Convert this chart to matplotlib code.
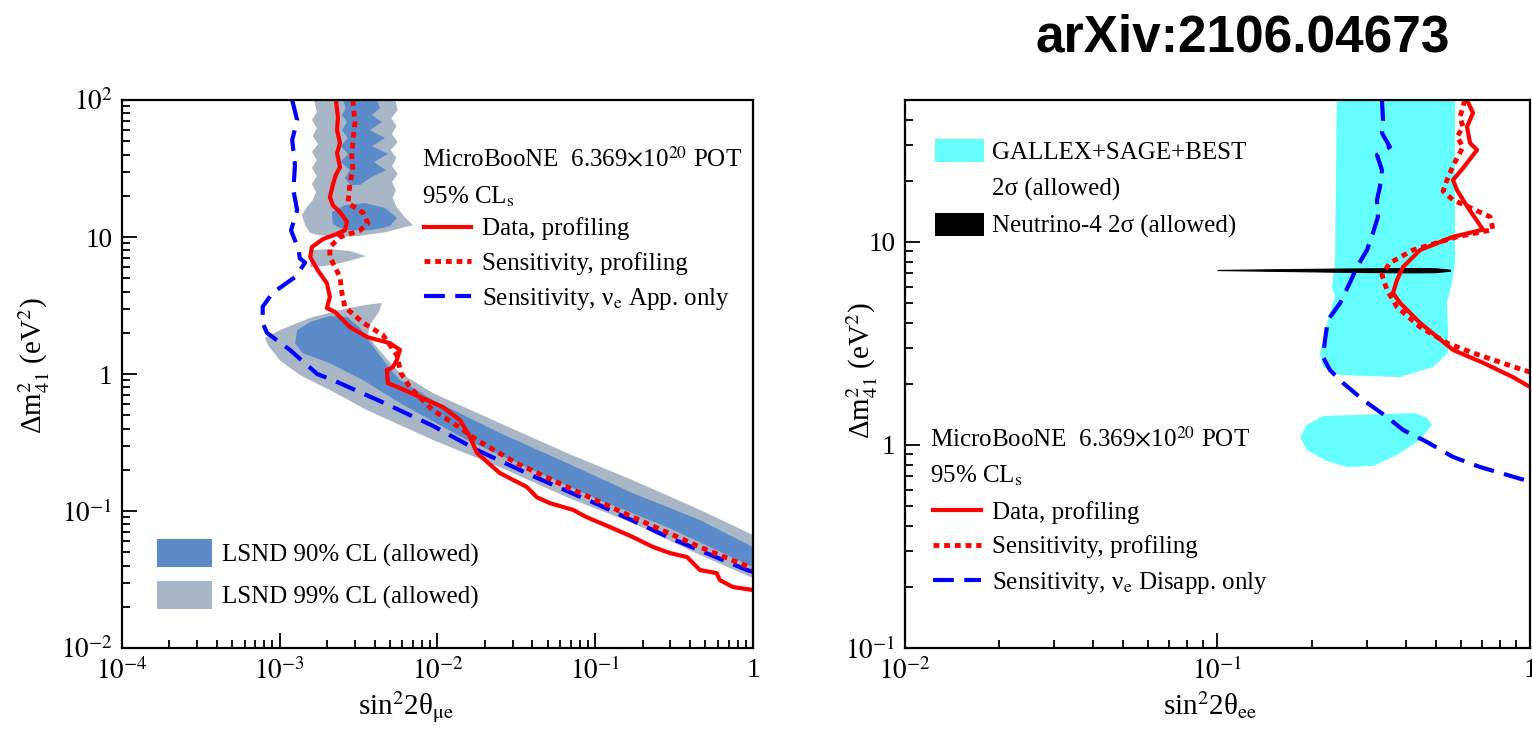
import numpy as np
import matplotlib
matplotlib.use("Agg")
import matplotlib.pyplot as plt
from matplotlib.lines import Line2D
from matplotlib.patches import Patch
from matplotlib.ticker import LogLocator, FuncFormatter, NullFormatter

plt.rcParams['font.family'] = ['Liberation Serif', 'DejaVu Serif']
plt.rcParams['mathtext.fontset'] = 'stix'

# ---------------- left panel: nu_mu -> nu_e appearance ----------------
# LSND 99% CL, lower band
lsnd99_band_x = [8.06e-4, 1.00e-3, 1.56e-3, 2.41e-3, 3.47e-3, 4.45e-3, 4.26e-3, 3.73e-3, 3.63e-3,
                 4.02e-3, 4.86e-3, 5.78e-3, 9.35e-3, 2.49e-2, 6.62e-2, 0.173, 0.461, 1.0, 1.0,
                 0.461, 0.173, 6.62e-2, 2.49e-2, 9.35e-3, 3.57e-3, 2.08e-3, 1.34e-3, 1.00e-3, 8.42e-4]
lsnd99_band_y = [1.83, 2.09, 2.57, 2.93, 3.19, 3.30, 2.84, 2.28, 1.93,
                 1.63, 1.26, 1.02, 0.726, 0.438, 0.265, 0.168, 0.102, 0.0668, 0.0324,
                 0.0478, 0.0817, 0.126, 0.209, 0.330, 0.546, 0.764, 0.985, 1.26, 1.63]
# LSND 99% CL, upper island
lsnd99_up_x = [1.65e-3, 5.4e-3, 5.6e-3, 5.1e-3, 5.5e-3, 5.15e-3, 5.6e-3, 5.05e-3, 5.5e-3, 5.15e-3,
               5.6e-3, 5.15e-3, 5.45e-3, 5.2e-3, 5.5e-3, 6.2e-3, 7.0e-3, 5.8e-3, 4.8e-3, 3.2e-3,
               2.4e-3, 1.8e-3, 1.56e-3, 1.45e-3, 1.38e-3, 1.49e-3, 1.62e-3, 1.70e-3, 1.60e-3, 1.72e-3,
               1.60e-3, 1.72e-3, 1.60e-3, 1.75e-3, 1.62e-3, 1.72e-3, 1.60e-3, 1.72e-3]
lsnd99_up_y = [100, 100, 84.5, 73.9, 64.6, 56.5, 49.3, 43.2, 37.8, 33.0,
               28.8, 25.2, 22.0, 19.3, 16.6, 14.0, 12.2, 11.6, 10.9, 10.2,
               10.0, 10.3, 10.7, 12.2, 14.5, 16.6, 18.6, 21.3, 24.4, 27.9,
               31.9, 36.5, 41.7, 47.7, 54.6, 62.5, 71.4, 81.7]
lsnd99_finger_x = [1.56e-3, 2.08e-3, 2.79e-3, 3.52e-3, 2.59e-3, 1.94e-3, 1.56e-3]
lsnd99_finger_y = [8.03, 8.17, 7.90, 7.26, 6.57, 6.14, 6.04]

# LSND 90% CL
lsnd90_band_x = [1.29e-3, 1.56e-3, 2.08e-3, 2.67e-3, 3.23e-3, 3.73e-3, 4.79e-3, 5.78e-3, 9.35e-3,
                 2.49e-2, 6.62e-2, 0.173, 0.461, 1.0, 1.0, 0.285, 0.107, 4.03e-2, 1.54e-2,
                 5.78e-3, 3.37e-3, 2.08e-3, 1.40e-3, 1.25e-3]
lsnd90_band_y = [2.09, 2.40, 2.65, 2.61, 2.17, 1.71, 1.16, 0.904, 0.646,
                 0.371, 0.224, 0.135, 0.0859, 0.0546, 0.039, 0.0764, 0.120, 0.199, 0.330,
                 0.614, 0.904, 1.20, 1.42, 1.68]
lsnd90_up_x = [2.52e-3, 4.13e-3, 4.32e-3, 3.84e-3, 4.45e-3, 3.73e-3, 4.65e-3, 3.84e-3, 4.86e-3,
               3.95e-3, 4.72e-3, 3.73e-3, 3.23e-3, 2.79e-3, 2.59e-3, 2.79e-3, 2.44e-3, 2.71e-3,
               2.44e-3, 2.71e-3, 2.48e-3, 2.67e-3, 2.48e-3, 2.63e-3]
lsnd90_up_y = [100, 100, 87.4, 77.8, 69.1, 60.4, 52.8, 46.1, 40.4,
               35.3, 30.8, 27.0, 24.0, 24.0, 27.0, 30.8, 35.3, 40.4,
               46.1, 52.8, 60.4, 69.1, 77.8, 87.4]
lsnd90_blob_x = [2.14e-3, 2.59e-3, 3.47e-3, 4.65e-3, 5.54e-3, 5.0e-3, 3.73e-3, 2.59e-3, 2.17e-3]
lsnd90_blob_y = [15.2, 17.1, 17.7, 16.3, 13.8, 12.0, 11.2, 11.2, 12.4]

# MicroBooNE contours (appearance)
app_data_x = [2.27e-3, 2.34e-3, 2.31e-3, 2.41e-3, 2.31e-3, 2.41e-3, 2.27e-3, 2.17e-3, 2.08e-3, 2.17e-3,
              2.41e-3, 2.67e-3, 2.59e-3, 2.24e-3, 1.88e-3, 1.60e-3, 1.56e-3, 1.74e-3, 1.99e-3, 2.08e-3,
              1.99e-3, 2.24e-3, 2.79e-3, 3.59e-3, 5.00e-3, 5.78e-3, 5.52e-3, 5.21e-3, 4.78e-3, 4.85e-3,
              5.78e-3, 8.58e-3, 1.08e-2, 1.39e-2, 1.61e-2, 1.78e-2, 2.49e-2, 3.68e-2, 4.27e-2, 5.18e-2,
              7.22e-2, 8.8e-2, 0.124, 0.173, 0.233, 0.298, 0.382, 0.461, 0.589, 0.617, 0.745, 1.0]
app_data_y = [100, 75.2, 60.4, 48.5, 41.0, 32.4, 28.4, 24.0, 19.6, 17.1,
              15.2, 12.9, 11.2, 10.4, 9.67, 8.45, 7.15, 5.74, 4.61, 3.65,
              3.03, 2.84, 2.20, 1.86, 1.68, 1.50, 1.26, 1.12, 1.07, 0.859,
              0.790, 0.646, 0.574, 0.461, 0.347, 0.265, 0.189, 0.150, 0.126, 0.114,
              0.102, 0.0903, 0.0764, 0.0646, 0.0546, 0.0493, 0.0461, 0.0371, 0.0352, 0.0313, 0.0279, 0.0265]
app_sens_x = [2.91e-3, 3.00e-3, 2.91e-3, 2.86e-3, 2.91e-3, 2.79e-3, 2.71e-3, 3.39e-3, 3.62e-3, 3.23e-3,
              2.41e-3, 2.08e-3, 2.08e-3, 2.41e-3, 2.48e-3, 2.59e-3, 3.39e-3, 4.50e-3, 5.52e-3, 5.86e-3,
              6.69e-3, 9.3e-3, 1.26e-2, 1.78e-2, 3.16e-2, 6.62e-2, 0.173, 0.461, 1.0]
app_sens_y = [100, 67.9, 51.0, 38.4, 30.8, 24.8, 17.7, 15.0, 12.6, 11.2,
              10.0, 8.45, 7.15, 5.11, 3.90, 3.08, 2.36, 1.93, 1.38, 1.02,
              0.80, 0.546, 0.438, 0.330, 0.224, 0.150, 0.0903, 0.0546, 0.038]
app_only_x = [1.20e-3, 1.29e-3, 1.20e-3, 1.25e-3, 1.22e-3, 1.29e-3, 1.18e-3, 1.32e-3, 1.34e-3, 1.45e-3,
              1.25e-3, 9.0e-4, 7.8e-4, 7.8e-4, 8.3e-4, 1.16e-3, 1.73e-3, 2.17e-3, 4.52e-3, 9.3e-3,
              1.78e-2, 4.03e-2, 0.107, 0.285, 0.916, 1.0]
app_only_y = [100, 71.4, 51, 33.5, 22, 15.7, 11.2, 8.03, 7.0, 6.5,
              5.1, 3.9, 3.1, 2.35, 2.0, 1.50, 1.0, 0.904, 0.62, 0.42,
              0.279, 0.18, 0.110, 0.065, 0.0371, 0.036]

# ---------------- right panel: nu_e disappearance ----------------
gsb_x = [0.2412, 0.5754, 0.5754, 0.5627, 0.5424, 0.5464, 0.546, 0.4893, 0.384, 0.247,
         0.2176, 0.213, 0.2257, 0.2377, 0.2325, 0.2377]
gsb_y = [60, 60, 7.88, 6.28, 5.01, 3.69, 2.84, 2.42, 2.16, 2.21,
         2.42, 2.84, 4.13, 5.36, 6.0, 7.88]
gsb2_x = [0.184, 0.193, 0.2176, 0.4285, 0.468, 0.486, 0.445, 0.3754, 0.3146, 0.2597, 0.224, 0.193]
gsb2_y = [1.094, 1.254, 1.39, 1.437, 1.358, 1.254, 1.06, 0.893, 0.788, 0.779, 0.834, 0.945]

n4_x = [0.100, 0.13, 0.18, 0.25, 0.33, 0.42, 0.50, 0.555]
n4_lo = [7.27, 7.23, 7.18, 7.13, 7.10, 7.08, 7.10, 7.22]
n4_hi = [7.28, 7.32, 7.36, 7.40, 7.42, 7.44, 7.42, 7.30]

dis_data_x = [0.6287, 0.657, 0.6287, 0.643, 0.677, 0.6105, 0.567, 0.584, 0.6287, 0.7075,
              0.567, 0.445, 0.3924, 0.3754, 0.3644, 0.384, 0.445, 0.567, 0.7075, 0.882, 1.0]
dis_data_y = [50, 43.2, 36.9, 30.7, 28.4, 23.1, 20.2, 18.0, 15.0, 11.5,
              10.6, 9.13, 7.53, 6.5, 5.61, 5.01, 3.99, 2.94, 2.54, 2.16, 1.93]
dis_sens_x = [0.619, 0.597, 0.6105, 0.584, 0.6105, 0.567, 0.5424, 0.527, 0.567, 0.6287,
              0.745, 0.7614, 0.584, 0.4222, 0.356, 0.336, 0.3486, 0.3754, 0.445, 0.5424,
              0.657, 0.95, 1.0]
dis_sens_y = [50, 41.3, 36.9, 32.9, 29.4, 23.7, 20.2, 17.8, 16.1, 15.0,
              13.3, 11.5, 10.6, 9.13, 7.88, 6.88, 5.80, 4.78, 3.81, 3.18,
              2.84, 2.34, 2.29]
dis_only_x = [0.336, 0.3386, 0.336, 0.356, 0.3238, 0.336, 0.331, 0.3238, 0.3262, 0.3146,
              0.301, 0.2795, 0.265, 0.247, 0.2257, 0.2208, 0.2176, 0.229, 0.2522, 0.292,
              0.3486, 0.3924, 0.468, 0.567, 0.692, 1.0]
dis_only_y = [50, 39.9, 34.4, 29.4, 26.8, 22.6, 18.7, 16.1, 13.3, 11.1,
              9.13, 7.53, 6.28, 5.01, 4.13, 3.29, 2.71, 2.34, 2.02, 1.67,
              1.374, 1.186, 1.035, 0.873, 0.779, 0.66]

BLUE90 = '#5b8bc8'
GRAY99 = '#a9b6c5'
CYAN = '#66ffff'
RED = '#ff0000'
BLUE = '#0000ff'
DOT = (0, (1.2, 1.0))
DASH = (0, (5, 2.5))
FS = 18


def log_label(v, pos):
    e = int(round(np.log10(v)))
    if e == 0:
        return '1'
    if e == 1:
        return '10'
    return r'$10^{%d}$' % e


def style_axes(ax, xlim, ylim):
    ax.set_xscale('log')
    ax.set_yscale('log')
    ax.set_xlim(*xlim)
    ax.set_ylim(*ylim)
    for axis in (ax.xaxis, ax.yaxis):
        axis.set_major_locator(LogLocator(base=10, numticks=20))
        axis.set_minor_locator(LogLocator(base=10, subs=np.arange(2, 10), numticks=20))
        axis.set_major_formatter(FuncFormatter(log_label))
        axis.set_minor_formatter(NullFormatter())
    ax.tick_params(which='both', direction='in', top=False, right=False,
                   labelsize=19.5, width=1.3)
    ax.tick_params(which='major', length=11, pad=7)
    ax.tick_params(which='minor', length=6)
    for s in ax.spines.values():
        s.set_linewidth(1.6)


fig = plt.figure(figsize=(15.32, 7.40), dpi=100)
ax1 = fig.add_axes([0.0796, 0.1243, 0.4119, 0.7405])
ax2 = fig.add_axes([0.5907, 0.1243, 0.4080, 0.7405])

# left panel
ax1.fill(lsnd99_band_x, lsnd99_band_y, color=GRAY99, lw=0)
ax1.fill(lsnd99_up_x, lsnd99_up_y, color=GRAY99, lw=0)
ax1.fill(lsnd99_finger_x, lsnd99_finger_y, color=GRAY99, lw=0)
ax1.fill(lsnd90_band_x, lsnd90_band_y, color=BLUE90, lw=0)
ax1.fill(lsnd90_up_x, lsnd90_up_y, color=BLUE90, lw=0)
ax1.fill(lsnd90_blob_x, lsnd90_blob_y, color=BLUE90, lw=0)
ax1.plot(app_only_x, app_only_y, color=BLUE, lw=3, ls=DASH)
ax1.plot(app_sens_x, app_sens_y, color=RED, lw=3.5, ls=DOT)
ax1.plot(app_data_x, app_data_y, color=RED, lw=3)
style_axes(ax1, (1e-4, 1), (1e-2, 1e2))
ax1.set_xlabel(r'sin$^{2}$2θ$_{\mathrm{μe}}$', fontsize=21)
ax1.set_ylabel(r'Δm$^{2}_{41}$ (eV$^{2}$)', fontsize=21)
ax1.xaxis.set_label_coords(0.45, -0.075)
ax1.yaxis.set_label_coords(-0.111, 0.516)

ax1.text(0.475, 0.891, r'MicroBooNE  6.369$\times$10$^{20}$ POT', transform=ax1.transAxes,
         fontsize=FS, va='center')
ax1.text(0.475, 0.823, r'95% CL$_\mathrm{s}$', transform=ax1.transAxes, fontsize=FS, va='center')
line_handles = [Line2D([], [], color=RED, lw=3),
                Line2D([], [], color=RED, lw=3.5, ls=DOT),
                Line2D([], [], color=BLUE, lw=3, ls=DASH)]
leg1 = ax1.legend(line_handles, ['Data, profiling', 'Sensitivity, profiling',
                                 r'Sensitivity, ν$_\mathrm{e}$ App. only'],
                  loc='upper left', bbox_to_anchor=(0.478, 0.786), frameon=False, fontsize=FS,
                  handlelength=1.9, handletextpad=0.45, labelspacing=0.45,
                  borderaxespad=0, borderpad=0)
ax1.add_artist(leg1)
ax1.legend([Patch(facecolor=BLUE90, edgecolor='none'), Patch(facecolor=GRAY99, edgecolor='none')],
           ['LSND 90% CL (allowed)', 'LSND 99% CL (allowed)'],
           loc='upper left', bbox_to_anchor=(0.055, 0.199), frameon=False, fontsize=FS,
           handlelength=2.2, handleheight=1.35, handletextpad=0.4, labelspacing=0.55,
           borderaxespad=0, borderpad=0)

# right panel
ax2.fill(gsb_x, gsb_y, color=CYAN, lw=0)
ax2.fill(gsb2_x, gsb2_y, color=CYAN, lw=0)
ax2.fill_between(n4_x, n4_lo, n4_hi, color='black', lw=0.8)
ax2.plot(dis_only_x, dis_only_y, color=BLUE, lw=3, ls=DASH)
ax2.plot(dis_sens_x, dis_sens_y, color=RED, lw=3.5, ls=DOT)
ax2.plot(dis_data_x, dis_data_y, color=RED, lw=3)
style_axes(ax2, (1e-2, 1), (0.1, 50))
ax2.set_xlabel(r'sin$^{2}$2θ$_{\mathrm{ee}}$', fontsize=21)
ax2.set_ylabel(r'Δm$^{2}_{41}$ (eV$^{2}$)', fontsize=21)
ax2.xaxis.set_label_coords(0.488, -0.075)
ax2.yaxis.set_label_coords(-0.040, 0.507)

leg2 = ax2.legend([Patch(facecolor=CYAN, edgecolor='none'), Patch(facecolor='none', edgecolor='none'),
                   Patch(facecolor='black', edgecolor='none')],
                  ['GALLEX+SAGE+BEST', '2σ (allowed)', 'Neutrino-4 2σ (allowed)'],
                  loc='upper left', bbox_to_anchor=(0.048, 0.929), frameon=False, fontsize=FS,
                  handlelength=1.95, handleheight=1.05, handletextpad=0.35, labelspacing=0.46,
                  borderaxespad=0, borderpad=0)
ax2.add_artist(leg2)
ax2.text(0.040, 0.380, r'MicroBooNE  6.369$\times$10$^{20}$ POT', transform=ax2.transAxes,
         fontsize=FS, va='center')
ax2.text(0.040, 0.314, r'95% CL$_\mathrm{s}$', transform=ax2.transAxes, fontsize=FS, va='center')
ax2.legend(line_handles, ['Data, profiling', 'Sensitivity, profiling',
                          r'Sensitivity, ν$_\mathrm{e}$ Disapp. only'],
           loc='upper left', bbox_to_anchor=(0.045, 0.268), frameon=False, fontsize=FS,
           handlelength=1.9, handletextpad=0.45, labelspacing=0.45,
           borderaxespad=0, borderpad=0)

fig.text(0.811, 0.949, 'arXiv:2106.04673', fontsize=37, fontweight='bold',
         family='Liberation Sans', ha='center', va='center')

fig.savefig('out.png', dpi=100)
